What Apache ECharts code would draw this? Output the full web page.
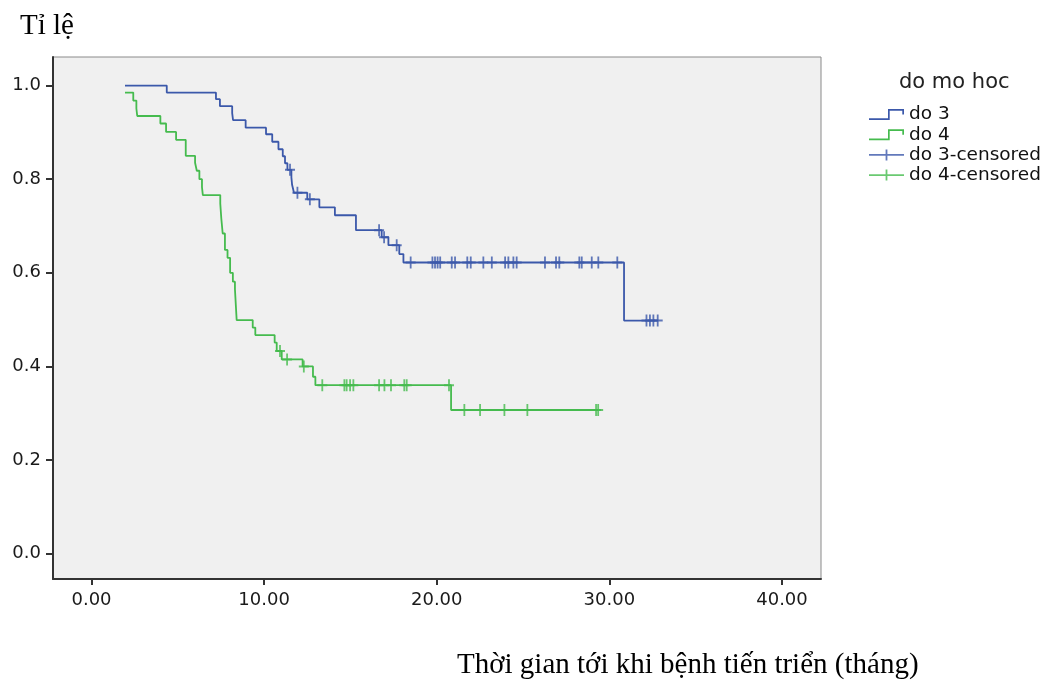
<!DOCTYPE html>
<html>
<head>
<meta charset="utf-8">
<title>Kaplan-Meier</title>
<script src="https://cdn.jsdelivr.net/npm/echarts@6/dist/echarts.min.js"></script>
<style>
  html, body { margin: 0; padding: 0; background: #fff; }
  #chart { width: 1056px; height: 680px; }
</style>
</head>
<body>
<div id="chart"></div>
<script>
// Thoi gian (thang) tai moi buoc giam va ti le song con sau buoc do
const do3Time = [1.94, 4.36, 7.21, 7.44, 8.15, 8.2, 8.93, 10.11, 10.47, 10.83, 11.08, 11.21, 11.35, 11.58, 11.62, 11.73, 12.5, 13.2, 14.1, 15.32, 16.81, 17.2, 17.83, 18.07, 30.85, 32.8];
const do3Surv = [1.0, 0.985, 0.971, 0.956, 0.941, 0.926, 0.91, 0.896, 0.88, 0.864, 0.849, 0.834, 0.82, 0.804, 0.788, 0.771, 0.757, 0.74, 0.723, 0.691, 0.676, 0.659, 0.64, 0.622, 0.498, 0.498];
const do3Censored = [11.5, 11.93, 12.65, 16.66, 16.95, 17.68, 18.49, 19.75, 19.9, 20.05, 20.2, 20.87, 21.06, 21.77, 21.97, 22.7, 23.19, 23.96, 24.15, 24.44, 24.63, 26.27, 26.91, 27.1, 28.26, 28.4, 28.98, 29.36, 30.46, 32.15, 32.35, 32.55, 32.8];

const do4Time = [1.94, 2.42, 2.6, 2.65, 3.99, 4.32, 4.9, 5.46, 6.0, 6.1, 6.25, 6.4, 6.45, 7.46, 7.52, 7.6, 7.73, 7.88, 8.03, 8.19, 8.31, 8.41, 9.34, 9.49, 10.61, 10.73, 11.02, 12.23, 12.83, 12.97, 20.83, 29.35];
const do4Surv = [0.985, 0.968, 0.951, 0.935, 0.919, 0.901, 0.884, 0.85, 0.835, 0.818, 0.8, 0.783, 0.766, 0.748, 0.716, 0.684, 0.649, 0.632, 0.6, 0.581, 0.565, 0.499, 0.483, 0.467, 0.451, 0.433, 0.415, 0.4, 0.378, 0.36, 0.307, 0.307];
const do4Censored = [10.92, 11.33, 12.3, 13.37, 14.65, 14.78, 14.98, 15.17, 16.66, 16.97, 17.35, 18.12, 18.26, 20.71, 21.6, 22.51, 23.92, 25.25, 29.23, 29.35];

const xTicks = [0, 10, 20, 30, 40];
const yTicks = [0, 0.2, 0.4, 0.6, 0.8, 1.0];

const blue = "#3b58aa";
const green = "#45bb4e";
const plusIcon = "path://M8.2,0H11.8V8.4H20V11.6H11.8V20H8.2V11.6H0V8.4H8.2Z";
const stepIcon = "path://M0,9.3H19V0H35V5.5H33.3V1.7H20.7V11H0Z";
const censorIcon = "path://M0,4.6H35V6.4H0Z M16.6,0H18.4V11H16.6Z";

// ti le tai thoi diem t theo duong bac thang
function survAt(times, surv, t) {
  let s = surv[0];
  for (let i = 0; i < times.length; i++) {
    if (times[i] <= t) s = surv[i];
  }
  return s;
}

const chart = echarts.init(document.getElementById("chart"), null, { renderer: "canvas" });
const tickFont = "DejaVu Sans";

chart.setOption({
  animation: false,
  backgroundColor: "#ffffff",
  grid: {
    left: 53,
    right: 235,
    top: 57,
    bottom: 101,
    show: true,
    backgroundColor: "#f0f0f0",
    borderColor: "#8a8a8a",
    borderWidth: 1
  },
  graphic: [
    {
      type: "text",
      left: 20,
      top: 12,
      style: { text: "Tỉ lệ", font: '29px "Liberation Serif"', fill: "#000" }
    },
    {
      type: "text",
      left: 457,
      top: 651,
      style: { text: "Thời gian tới khi bệnh tiến triển (tháng)", font: '29px "Liberation Serif"', fill: "#000" }
    },
    {
      type: "text",
      left: 899,
      top: 72,
      style: { text: "do mo hoc", font: '21px "DejaVu Sans"', fill: "#222" }
    }
  ],
  legend: {
    orient: "vertical",
    left: 869,
    top: 105,
    padding: 0,
    itemWidth: 35,
    itemHeight: 11,
    itemGap: 1.2,
    selectedMode: false,
    itemStyle: { borderWidth: 0 },
    textStyle: { fontFamily: tickFont, fontSize: 18.5, color: "#111" },
    data: [
      { name: "do 3", icon: stepIcon },
      { name: "do 4", icon: stepIcon },
      { name: "do 3-censored", icon: censorIcon },
      { name: "do 4-censored", icon: censorIcon }
    ]
  },
  xAxis: {
    type: "value",
    min: -2.23,
    max: 42.26,
    splitLine: { show: false },
    axisLine: { onZero: false, lineStyle: { color: "#333", width: 2 } },
    axisTick: { customValues: xTicks, length: 6, lineStyle: { color: "#333", width: 2 } },
    axisLabel: {
      customValues: xTicks,
      margin: 12,
      fontFamily: tickFont,
      fontSize: 18,
      color: "#1a1a1a",
      formatter: v => v.toFixed(2)
    }
  },
  yAxis: {
    type: "value",
    min: -0.054,
    max: 1.061,
    splitLine: { show: false },
    axisLine: { onZero: false, lineStyle: { color: "#333", width: 2 } },
    axisTick: { customValues: yTicks, length: 7, lineStyle: { color: "#333", width: 2 } },
    axisLabel: {
      customValues: yTicks,
      margin: 12,
      fontFamily: tickFont,
      fontSize: 18,
      color: "#1a1a1a",
      formatter: v => v.toFixed(1)
    }
  },
  series: [
    {
      name: "do 3",
      type: "line",
      step: "end",
      showSymbol: false,
      color: blue,
      lineStyle: { width: 1.8 },
      data: do3Time.map((t, i) => [t, do3Surv[i]])
    },
    {
      name: "do 4",
      type: "line",
      step: "end",
      showSymbol: false,
      color: green,
      lineStyle: { width: 1.8 },
      data: do4Time.map((t, i) => [t, do4Surv[i]])
    },
    {
      name: "do 3-censored",
      type: "scatter",
      symbol: plusIcon,
      symbolSize: [10, 12],
      color: blue,
      data: do3Censored.map(t => [t, survAt(do3Time, do3Surv, t)])
    },
    {
      name: "do 4-censored",
      type: "scatter",
      symbol: plusIcon,
      symbolSize: [10, 12],
      color: green,
      data: do4Censored.map(t => [t, survAt(do4Time, do4Surv, t)])
    }
  ]
});
</script>
</body>
</html>
